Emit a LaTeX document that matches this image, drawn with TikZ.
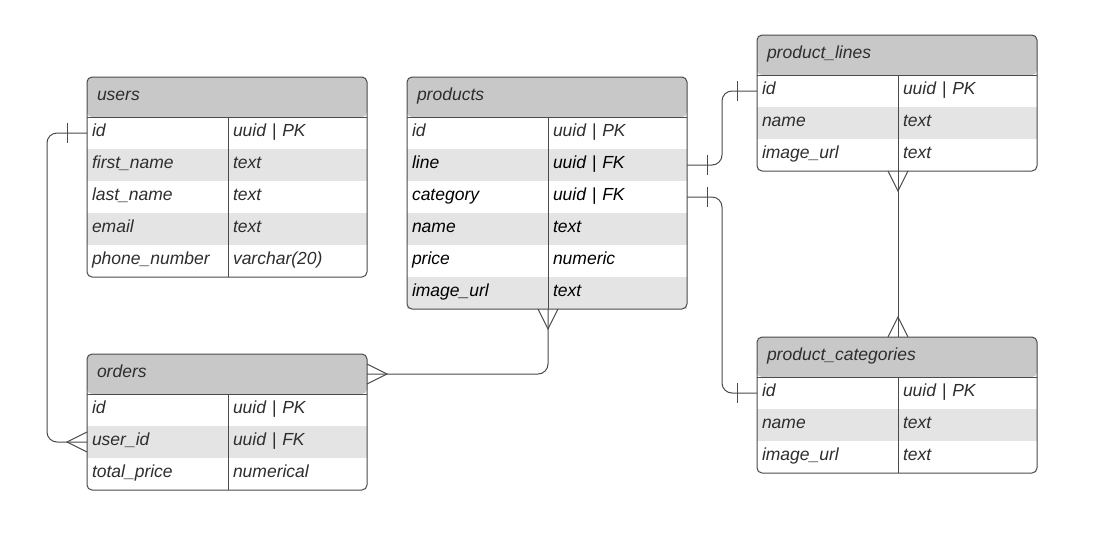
\documentclass[tikz,border=0pt]{standalone}
\usepackage{fontspec}
\setmainfont{Liberation Sans}
\usetikzlibrary{positioning, decorations.markings}
\definecolor{hdrGray}{HTML}{C8C8C8}
\definecolor{rowGray}{HTML}{E4E4E4}
\definecolor{lineGray}{HTML}{4A4A4A}
\definecolor{txtGray}{HTML}{2E2E2E}
\tikzstyle{tblHead} = [rectangle, fill=hdrGray, rounded corners=5pt,
   minimum width=280pt, minimum height=40pt, text width=260pt,
   inner xsep=10pt, inner ysep=0pt, outer sep=0pt, align=left,
   anchor=north west, text height=12pt, text depth=5pt, text=txtGray]
\tikzstyle{fld} = [rectangle, fill=white, minimum width=141pt,
   minimum height=32pt, text width=131pt, inner xsep=5pt, inner ysep=0pt,
   outer sep=0pt, align=left, text height=12pt, text depth=5pt, text=txtGray]
\tikzstyle{typ} = [fld, minimum width=139pt, text width=129pt]
\tikzstyle{alt} = [fill=rowGray]
\tikzstyle{blk} = [text=black]
\tikzstyle{border} = [draw=lineGray, line width=1pt]
\tikzstyle{conn} = [draw=lineGray, line width=1pt]
\tikzstyle{tip} = [lineGray, line width=1pt, sharp corners]
\tikzstyle{oneStart} = [postaction={decorate, decoration={markings,
   mark=at position 20pt with {\draw[tip] (0pt,-10pt) -- (0pt,10pt);}}}]
\tikzstyle{oneEnd} = [postaction={decorate, decoration={markings,
   mark=at position -20pt with {\draw[tip] (0pt,-10pt) -- (0pt,10pt);}}}]
\tikzstyle{manyStart} = [postaction={decorate, decoration={markings,
   mark=at position 20pt with {\draw[tip] (-20pt,10pt) -- (0pt,0pt) -- (-20pt,-10pt);}}}]
\tikzstyle{manyEnd} = [postaction={decorate, decoration={markings,
   mark=at position -20pt with {\draw[tip] (20pt,10pt) -- (0pt,0pt) -- (20pt,-10pt);}}}]
\begin{document}
\begin{tikzpicture}[x=1pt, y=1pt, font=\fontsize{17.5}{21}\selectfont\itshape]
  \useasboundingbox (0,0) rectangle (1096,-558);

  % users
  \node[tblHead] (users-h) at (87,-77) {users};
  \node[fld, anchor=north west] (users-id) at (users-h.south west) {id};
  \node[typ, right=0pt of users-id] (users-id-t) {uuid | PK};
  \node[fld, alt, below=0pt of users-id] (users-fn) {first\_name};
  \node[typ, alt, right=0pt of users-fn] (users-fn-t) {text};
  \node[fld, below=0pt of users-fn] (users-ln) {last\_name};
  \node[typ, right=0pt of users-ln] (users-ln-t) {text};
  \node[fld, alt, below=0pt of users-ln] (users-em) {email};
  \node[typ, alt, right=0pt of users-em] (users-em-t) {text};
  \node[fld, below=0pt of users-em] (users-ph) {phone\_number};
  \node[typ, right=0pt of users-ph] (users-ph-t) {varchar(20)};
  \draw[border, rounded corners=5pt] (users-h.north west) rectangle (users-ph-t.south east);
  \draw[border] (users-h.south west) -- (users-h.south east);
  \draw[border] (users-id-t.north west) -- (users-ph-t.south west);

  % products
  \node[tblHead] (prod-h) at (407,-77) {products};
  \node[fld, anchor=north west] (prod-id) at (prod-h.south west) {id};
  \node[typ, right=0pt of prod-id] (prod-id-t) {uuid | PK};
  \node[fld, alt, blk, below=0pt of prod-id] (prod-line) {line};
  \node[typ, alt, blk, right=0pt of prod-line] (prod-line-t) {uuid | FK};
  \node[fld, blk, below=0pt of prod-line] (prod-cat) {category};
  \node[typ, blk, right=0pt of prod-cat] (prod-cat-t) {uuid | FK};
  \node[fld, alt, blk, below=0pt of prod-cat] (prod-name) {name};
  \node[typ, alt, blk, right=0pt of prod-name] (prod-name-t) {text};
  \node[fld, blk, below=0pt of prod-name] (prod-price) {price};
  \node[typ, blk, right=0pt of prod-price] (prod-price-t) {numeric};
  \node[fld, alt, blk, below=0pt of prod-price] (prod-img) {image\_url};
  \node[typ, alt, blk, right=0pt of prod-img] (prod-img-t) {text};
  \draw[border, rounded corners=5pt] (prod-h.north west) rectangle (prod-img-t.south east);
  \draw[border] (prod-h.south west) -- (prod-h.south east);
  \draw[border] (prod-id-t.north west) -- (prod-img-t.south west);

  % product_lines
  \node[tblHead] (lines-h) at (757,-35) {product\_lines};
  \node[fld, anchor=north west] (lines-id) at (lines-h.south west) {id};
  \node[typ, right=0pt of lines-id] (lines-id-t) {uuid | PK};
  \node[fld, alt, below=0pt of lines-id] (lines-name) {name};
  \node[typ, alt, right=0pt of lines-name] (lines-name-t) {text};
  \node[fld, below=0pt of lines-name] (lines-img) {image\_url};
  \node[typ, right=0pt of lines-img] (lines-img-t) {text};
  \draw[border, rounded corners=5pt] (lines-h.north west) rectangle (lines-img-t.south east);
  \draw[border] (lines-h.south west) -- (lines-h.south east);
  \draw[border] (lines-id-t.north west) -- (lines-img-t.south west);

  % orders
  \node[tblHead] (ord-h) at (87,-354) {orders};
  \node[fld, anchor=north west] (ord-id) at (ord-h.south west) {id};
  \node[typ, right=0pt of ord-id] (ord-id-t) {uuid | PK};
  \node[fld, alt, below=0pt of ord-id] (ord-uid) {user\_id};
  \node[typ, alt, right=0pt of ord-uid] (ord-uid-t) {uuid | FK};
  \node[fld, below=0pt of ord-uid] (ord-total) {total\_price};
  \node[typ, right=0pt of ord-total] (ord-total-t) {numerical};
  \draw[border, rounded corners=5pt] (ord-h.north west) rectangle (ord-total-t.south east);
  \draw[border] (ord-h.south west) -- (ord-h.south east);
  \draw[border] (ord-id-t.north west) -- (ord-total-t.south west);

  % product_categories
  \node[tblHead] (cat-h) at (757,-337) {product\_categories};
  \node[fld, anchor=north west] (cat-id) at (cat-h.south west) {id};
  \node[typ, right=0pt of cat-id] (cat-id-t) {uuid | PK};
  \node[fld, alt, below=0pt of cat-id] (cat-name) {name};
  \node[typ, alt, right=0pt of cat-name] (cat-name-t) {text};
  \node[fld, below=0pt of cat-name] (cat-img) {image\_url};
  \node[typ, right=0pt of cat-img] (cat-img-t) {text};
  \draw[border, rounded corners=5pt] (cat-h.north west) rectangle (cat-img-t.south east);
  \draw[border] (cat-h.south west) -- (cat-h.south east);
  \draw[border] (cat-id-t.north west) -- (cat-img-t.south west);

  % relations
  \draw[conn, oneStart, manyEnd, rounded corners=10pt] (users-id.west) -- ++(-40,0) |- (ord-uid.west);
  \draw[conn, manyStart, manyEnd, rounded corners=10pt] (prod-img-t.south west) |- (ord-h.east);
  \draw[conn, oneStart, oneEnd, rounded corners=10pt] (prod-line-t.east) -- ++(35,0) |- (lines-id.west);
  \draw[conn, oneStart, oneEnd, rounded corners=10pt] (prod-cat-t.east) -- ++(35,0) |- (cat-id.west);
  \draw[conn, manyStart, manyEnd] (lines-img-t.south west) -- (lines-img-t.south west |- cat-h.north);
\end{tikzpicture}
\end{document}
